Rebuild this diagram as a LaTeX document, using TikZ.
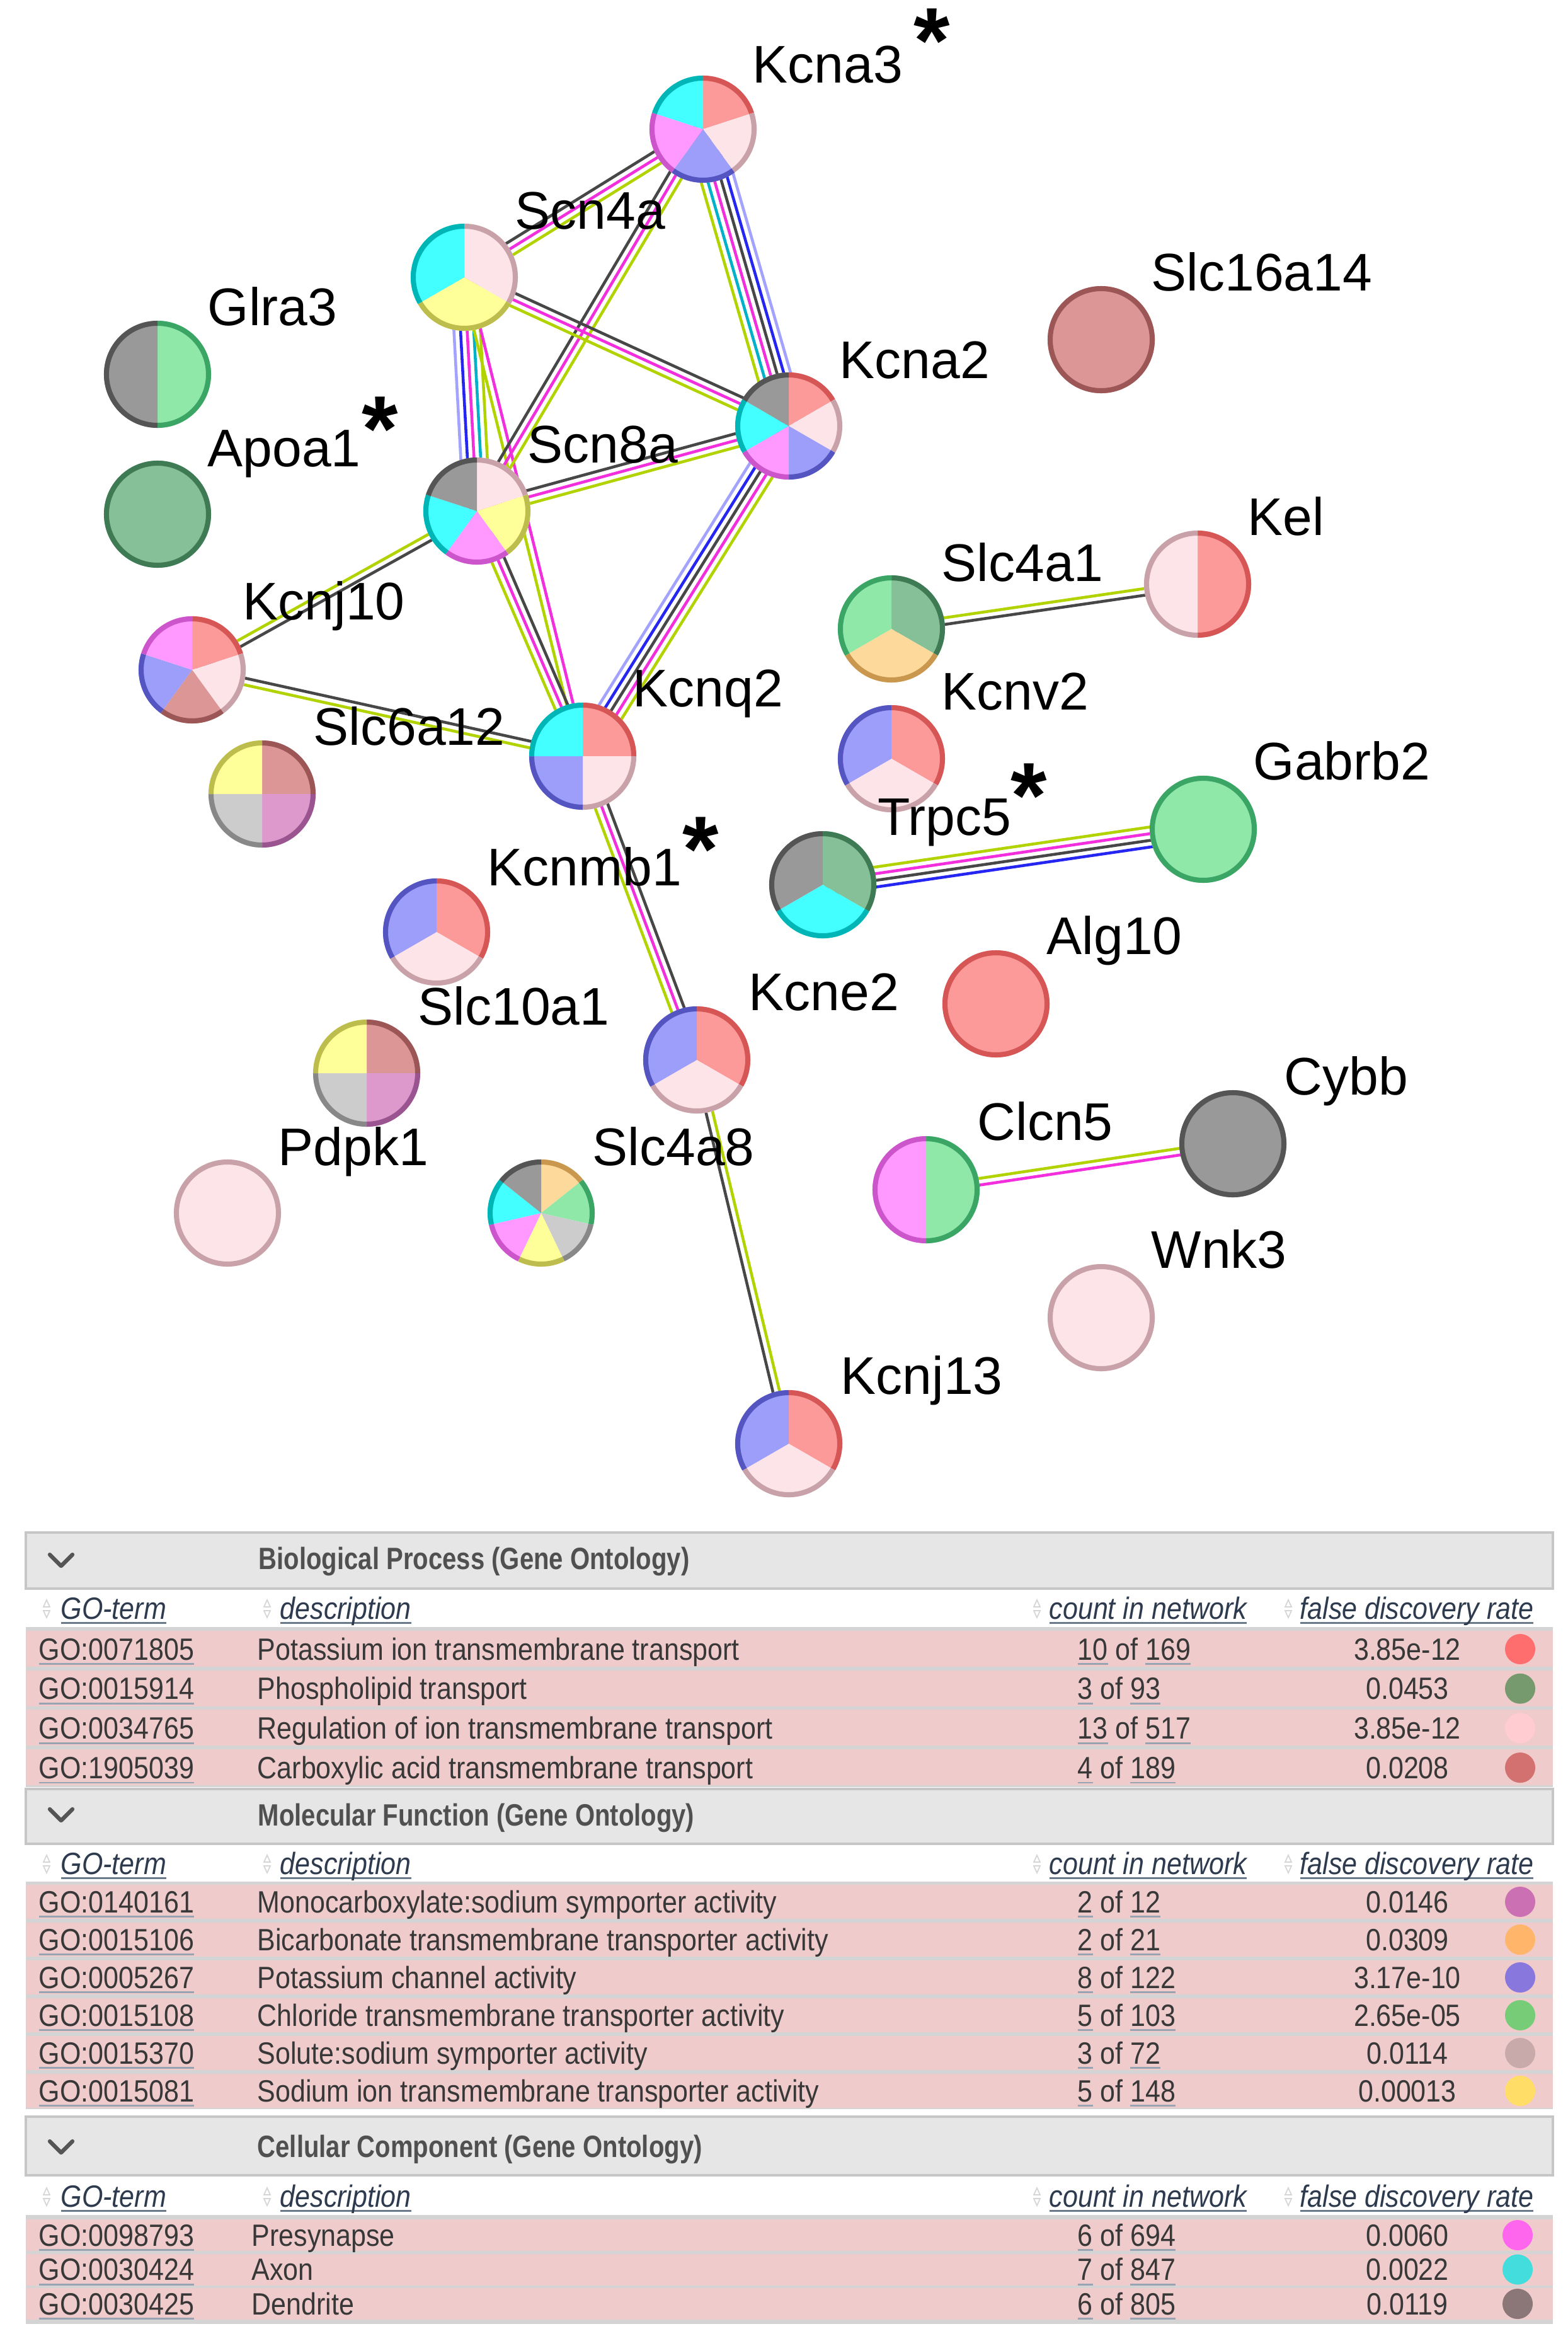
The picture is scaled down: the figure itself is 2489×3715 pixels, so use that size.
\documentclass[tikz,border=0pt]{standalone}
\usepackage{fontspec}
\setmainfont{Liberation Sans}
\newfontfamily\labfont{Liberation Sans}
\newfontfamily\tabreg[FakeStretch=0.88]{Liberation Sans}
\newfontfamily\tabhd[FakeStretch=0.82]{Liberation Sans}
\usetikzlibrary{calc}
\pgfdeclarelayer{bgl}
\pgfdeclarelayer{edges}
\pgfsetlayers{bgl,edges,main}
% node sector colours (fill / border)
\definecolor{cR}{HTML}{FC9A9A}\definecolor{cRB}{HTML}{D65555}
\definecolor{cP}{HTML}{FDE4E8}\definecolor{cPB}{HTML}{C8A2A8}
\definecolor{cDG}{HTML}{86C098}\definecolor{cDGB}{HTML}{3E7B55}
\definecolor{cDR}{HTML}{DC9696}\definecolor{cDRB}{HTML}{9C5656}
\definecolor{cMv}{HTML}{DD99CC}\definecolor{cMvB}{HTML}{9A5590}
\definecolor{cO}{HTML}{FDDA9B}\definecolor{cOB}{HTML}{C9974E}
\definecolor{cB}{HTML}{9D9DFA}\definecolor{cBB}{HTML}{5555C2}
\definecolor{cG}{HTML}{8FE8A8}\definecolor{cGB}{HTML}{3AA565}
\definecolor{cLG}{HTML}{CCCCCC}\definecolor{cLGB}{HTML}{888888}
\definecolor{cY}{HTML}{FFFF99}\definecolor{cYB}{HTML}{BDBD4D}
\definecolor{cM}{HTML}{FF99FF}\definecolor{cMB}{HTML}{CC55CC}
\definecolor{cC}{HTML}{44FFFF}\definecolor{cCB}{HTML}{00B5B5}
\definecolor{cK}{HTML}{999999}\definecolor{cKB}{HTML}{555555}
% edge colours
\definecolor{eL}{HTML}{A3A3FF}
\definecolor{eB}{HTML}{2626F2}
\definecolor{eK}{HTML}{474747}
\definecolor{eM}{HTML}{F22EDD}
\definecolor{eT}{HTML}{00B1C9}
\definecolor{eY}{HTML}{B3D300}
% table colours
\definecolor{rowpink}{HTML}{F0CBCB}
\definecolor{sepg}{HTML}{D4D4D4}
\definecolor{bandfill}{HTML}{E6E6E6}
\definecolor{bandline}{HTML}{C6C6C6}
\definecolor{bandtext}{HTML}{505050}
\definecolor{tabtext}{HTML}{383838}
\definecolor{colhead}{HTML}{2E3B4E}
\definecolor{colul}{HTML}{6A7A8A}
\definecolor{ulgray}{HTML}{98A4B2}
\definecolor{chevc}{HTML}{555555}
\definecolor{sortc}{HTML}{D6D6D6}
% legend dots
\definecolor{dR}{HTML}{FF6E6E}
\definecolor{dDG}{HTML}{77996E}
\definecolor{dP}{HTML}{FFCCD2}
\definecolor{dDR}{HTML}{D37070}
\definecolor{dMv}{HTML}{CC70B4}
\definecolor{dO}{HTML}{FFB56A}
\definecolor{dB}{HTML}{8877DD}
\definecolor{dG}{HTML}{77CC77}
\definecolor{dLG}{HTML}{C8AAAA}
\definecolor{dY}{HTML}{FFDD66}
\definecolor{dM}{HTML}{FF66EE}
\definecolor{dC}{HTML}{44DDDD}
\definecolor{dK}{HTML}{8B7777}

\newsavebox\ulbox
\newcommand\gul[2][ulgray]{\sbox\ulbox{#2}\rlap{\color{#1}\rule[-0.17em]{\wd\ulbox}{0.06em}}\usebox\ulbox}

\newcommand\genepie[2]{%
  \foreach \c [count=\n] in {#2} {\global\let\pieN\n}%
  \foreach \c [count=\i from 0] in {#2} {%
    \pgfmathsetmacro\sa{90-\i*360/\pieN}%
    \pgfmathsetmacro\ea{90-(\i+1)*360/\pieN}%
    \fill[fill=\c] (#1.center) -- ($(#1.center)+(\sa:85)$) arc[start angle=\sa, end angle=\ea, radius=85] -- cycle;%
    \draw[draw=\c B, line width=2.3pt] ($(#1.center)+(\sa:81)$) arc[start angle=\sa, end angle=\ea, radius=81];%
  }}

\newcommand\pedge[3]{%
  \foreach \c [count=\n] in {#3} {\global\let\edN\n}%
  \foreach \c [count=\i from 0] in {#3} {%
    \pgfmathsetmacro\off{((\edN-1)/2-\i)*2.99}%
    \draw[draw=\c, line width=1.3pt] ($(#1.center)!\off pt!90:(#2.center)$) -- ($(#2.center)!\off pt!-90:(#1.center)$);%
  }}

\newcommand\sorticon[2]{%
  \draw[sorti] (#1-5,{-(#2-19)}) -- (#1+5,{-(#2-19)}) -- (#1,{-(#2-30)}) -- cycle;
  \draw[sorti] (#1-5,{-(#2-13)}) -- (#1+5,{-(#2-13)}) -- (#1,{-(#2-2)}) -- cycle;
}
\newcommand\colhead[2]{%
  \sorticon{74}{#2}\sorticon{424}{#2}\sorticon{1646}{#2}\sorticon{2045}{#2}%
  \node[th] (#1go) at (96,-#2) {\gul[colul]{GO-term}};
  \node[th] (#1de) at (444,-#2) {\gul[colul]{description}};
  \node[th] (#1co) at (1665,-#2) {\gul[colul]{count in network}};
  \node[th] (#1fd) at (2063,-#2) {\gul[colul]{false discovery rate}};
}

\tikzset{
  gene/.style={circle, minimum size=1.7cm, inner sep=0pt},
  lab/.style={anchor=base west, inner sep=0pt, font=\labfont\fontsize{23.9}{28}\selectfont, text=black},
  ast/.style={anchor=base, inner sep=0pt, font=\labfont\bfseries\fontsize{42}{46}\selectfont, text=black},
  tt/.style={anchor=base west, inner sep=0pt, font=\tabreg\fontsize{13.9}{16}\selectfont, text=tabtext},
  ttc/.style={tt, anchor=base},
  th/.style={anchor=base west, inner sep=0pt, font=\tabreg\itshape\fontsize{13.9}{16}\selectfont, text=colhead},
  tb/.style={anchor=base west, inner sep=0pt, font=\tabhd\bfseries\fontsize{13.9}{16}\selectfont, text=bandtext},
  dot/.style={circle, minimum size=0.48cm, inner sep=0pt},
  band/.style={fill=bandfill, draw=bandline, line width=1pt},
  chev/.style={draw=chevc, line width=1.8pt, line cap=round, line join=round},
  sorti/.style={draw=sortc, line width=0.5pt, fill=white}
}

\begin{document}
\begin{tikzpicture}[x=0.01cm, y=0.01cm]
\useasboundingbox (0,0) rectangle (2489,-3715);
\begin{pgfonlayer}{bgl}
\fill[white] (0,0) rectangle (2489,-3715);
\end{pgfonlayer}

% ---------- gene nodes ----------
\node[gene] (kcna3)    at (1116,-205)  {};
\node[gene] (scn4a)    at (737,-440)   {};
\node[gene] (glra3)    at (250,-594)   {};
\node[gene] (apoa1)    at (250,-816)   {};
\node[gene] (scn8a)    at (757,-811)   {};
\node[gene] (kcnj10)   at (305,-1063)  {};
\node[gene] (kcna2)    at (1252,-676)  {};
\node[gene] (slc16a14) at (1748,-539)  {};
\node[gene] (slc4a1)   at (1415,-998)  {};
\node[gene] (kel)      at (1901,-927)  {};
\node[gene] (kcnq2)    at (925,-1200)  {};
\node[gene] (slc6a12)  at (416,-1260)  {};
\node[gene] (kcnmb1)   at (693,-1479)  {};
\node[gene] (kcnv2)    at (1415,-1204) {};
\node[gene] (trpc5)    at (1306,-1404) {};
\node[gene] (gabrb2)   at (1910,-1316) {};
\node[gene] (slc10a1)  at (582,-1703)  {};
\node[gene] (kcne2)    at (1106,-1682) {};
\node[gene] (alg10)    at (1581,-1593) {};
\node[gene] (pdpk1)    at (361,-1925)  {};
\node[gene] (slc4a8)   at (859,-1925)  {};
\node[gene] (clcn5)    at (1470,-1888) {};
\node[gene] (cybb)     at (1957,-1815) {};
\node[gene] (wnk3)     at (1748,-2091) {};
\node[gene] (kcnj13)   at (1252,-2291) {};

% ---------- edges ----------
\begin{pgfonlayer}{edges}
\pedge{kcna3}{kcna2}{eL,eB,eK,eM,eT,eY}
\pedge{kcnq2}{kcna2}{eL,eB,eK,eM,eY}
\pedge{scn8a}{scn4a}{eL,eB,eM,eT,eY}
\pedge{scn4a}{kcnq2}{eM,eY}
\pedge{scn8a}{kcnq2}{eK,eM,eY}
\pedge{scn4a}{kcna3}{eK,eM,eY}
\pedge{scn8a}{kcna3}{eK,eM,eY}
\pedge{scn4a}{kcna2}{eK,eM,eY}
\pedge{scn8a}{kcna2}{eK,eM,eY}
\pedge{scn8a}{kcnj10}{eK,eY}
\pedge{kcnj10}{kcnq2}{eK,eY}
\pedge{kcnq2}{kcne2}{eK,eM,eY}
\pedge{kcnj13}{kcne2}{eK,eY}
\pedge{kel}{slc4a1}{eK,eY}
\pedge{gabrb2}{trpc5}{eB,eK,eM,eY}
\pedge{cybb}{clcn5}{eM,eY}
\end{pgfonlayer}

% ---------- pies ----------
\genepie{kcna3}{cR,cP,cB,cM,cC}
\genepie{scn4a}{cP,cY,cC}
\genepie{glra3}{cG,cK}
\genepie{apoa1}{cDG}
\genepie{slc16a14}{cDR}
\genepie{scn8a}{cP,cY,cM,cC,cK}
\genepie{kcna2}{cR,cP,cB,cM,cC,cK}
\genepie{kcnj10}{cR,cP,cDR,cB,cM}
\genepie{slc6a12}{cDR,cMv,cLG,cY}
\genepie{kcnq2}{cR,cP,cB,cC}
\genepie{slc4a1}{cDG,cO,cG}
\genepie{kel}{cR,cP}
\genepie{kcnv2}{cR,cP,cB}
\genepie{trpc5}{cDG,cC,cK}
\genepie{gabrb2}{cG}
\genepie{kcnmb1}{cR,cP,cB}
\genepie{slc10a1}{cDR,cMv,cLG,cY}
\genepie{kcne2}{cR,cP,cB}
\genepie{alg10}{cR}
\genepie{pdpk1}{cP}
\genepie{slc4a8}{cO,cG,cLG,cY,cM,cC,cK}
\genepie{clcn5}{cG,cM}
\genepie{cybb}{cK}
\genepie{wnk3}{cP}
\genepie{kcnj13}{cR,cP,cB}

% ---------- labels ----------
\node[lab] (lkcna3)    at (1194,-132)  {Kcna3};
\node[lab] (lscn4a)    at (817,-363)   {Scn4a};
\node[lab] (lglra3)    at (329,-516)   {Glra3};
\node[lab] (lslc16a14) at (1827,-461)  {Slc16a14};
\node[lab] (lapoa1)    at (329,-740)   {Apoa1};
\node[lab] (lkcna2)    at (1332,-600)  {Kcna2};
\node[lab] (lscn8a)    at (837,-734)   {Scn8a};
\node[lab] (lkel)      at (1980,-849)  {Kel};
\node[lab] (lkcnj10)   at (385,-983)   {Kcnj10};
\node[lab] (lslc4a1)   at (1494,-922)  {Slc4a1};
\node[lab] (lkcnq2)    at (1004,-1121) {Kcnq2};
\node[lab] (lkcnv2)    at (1494,-1126) {Kcnv2};
\node[lab] (lslc6a12)  at (497,-1182)  {Slc6a12};
\node[lab] (lgabrb2)   at (1989,-1237) {Gabrb2};
\node[lab] (ltrpc5)    at (1393,-1325) {Trpc5};
\node[lab] (lkcnmb1)   at (773,-1405)  {Kcnmb1};
\node[lab] (lalg10)    at (1661,-1514) {Alg10};
\node[lab] (lkcne2)    at (1188,-1603) {Kcne2};
\node[lab] (lslc10a1)  at (663,-1626)  {Slc10a1};
\node[lab] (lcybb)     at (2038,-1737) {Cybb};
\node[lab] (lclcn5)    at (1551,-1809) {Clcn5};
\node[lab] (lpdpk1)    at (441,-1849)  {Pdpk1};
\node[lab] (lslc4a8)   at (940,-1849)  {Slc4a8};
\node[lab] (lwnk3)     at (1827,-2012) {Wnk3};
\node[lab] (lkcnj13)   at (1334,-2212) {Kcnj13};
% asterisks
\node[ast] (akcna3)  at (1479,-116) {*};
\node[ast] (aapoa1)  at (603,-731)  {*};
\node[ast] (akcnmb1) at (1112,-1398) {*};
\node[ast] (atrpc5)  at (1633,-1313) {*};

% ---------- table: Biological Process ----------
\draw[band] (41,-2432) rectangle (2465,-2521);
\draw[chev] (79,-2467) -- (97,-2485) -- (115,-2467);
\node[tb] (bphead) at (410,-2490) {Biological Process (Gene Ontology)};
\colhead{bp}{2569}
\fill[sepg] (41,-2582) rectangle (2465,-2836);
\foreach \id/\de/\ca/\cb/\fd/\dc [count=\k from 0] in {
  0071805/Potassium ion transmembrane transport/10/169/3.85e-12/dR,
  0015914/Phospholipid transport/3/93/0.0453/dDG,
  0034765/Regulation of ion transmembrane transport/13/517/3.85e-12/dP,
  1905039/Carboxylic acid transmembrane transport/4/189/0.0208/dDR}{
  \pgfmathsetmacro\yb{2634+62.7*\k}
  \fill[rowpink] (41,{-(\yb-46)}) rectangle (2465,{-(\yb+11)});
  \node[tt] (bpid\k) at (61,-\yb) {\gul{GO:\id}};
  \node[tt] (bpde\k) at (408,-\yb) {\de};
  \node[tt] (bpco\k) at (1710,-\yb) {\gul{\ca} of \gul{\cb}};
  \node[ttc] (bpfd\k) at (2234,-\yb) {\fd};
  \node[dot, fill=\dc] (bpdot\k) at (2413,{-(\yb-17)}) {};
}

% ---------- table: Molecular Function ----------
\draw[band] (41,-2839) rectangle (2465,-2926);
\draw[chev] (79,-2871) -- (97,-2889) -- (115,-2871);
\node[tb] (mfhead) at (409,-2897) {Molecular Function (Gene Ontology)};
\colhead{mf}{2974}
\fill[sepg] (41,-2986) rectangle (2465,-3347);
\foreach \id/\de/\ca/\cb/\fd/\dc [count=\k from 0] in {
  0140161/Monocarboxylate:sodium symporter activity/2/12/0.0146/dMv,
  0015106/Bicarbonate transmembrane transporter activity/2/21/0.0309/dO,
  0005267/Potassium channel activity/8/122/3.17e-10/dB,
  0015108/Chloride transmembrane transporter activity/5/103/2.65e-05/dG,
  0015370/Solute:sodium symporter activity/3/72/0.0114/dLG,
  0015081/Sodium ion transmembrane transporter activity/5/148/0.00013/dY}{
  \pgfmathsetmacro\yb{3035+60*\k}
  \fill[rowpink] (41,{-(\yb-44.5)}) rectangle (2465,{-(\yb+9.5)});
  \node[tt] (mfid\k) at (61,-\yb) {\gul{GO:\id}};
  \node[tt] (mfde\k) at (408,-\yb) {\de};
  \node[tt] (mfco\k) at (1710,-\yb) {\gul{\ca} of \gul{\cb}};
  \node[ttc] (mffd\k) at (2234,-\yb) {\fd};
  \node[dot, fill=\dc] (mfdot\k) at (2413,{-(\yb-17)}) {};
}

% ---------- table: Cellular Component ----------
\draw[band] (41,-3359) rectangle (2465,-3452);
\draw[chev] (79,-3398) -- (97,-3416) -- (115,-3398);
\node[tb] (cchead) at (408,-3423) {Cellular Component (Gene Ontology)};
\colhead{cc}{3502}
\fill[sepg] (41,-3515) rectangle (2465,-3688);
\foreach \id/\de/\ca/\cb/\fd/\dc [count=\k from 0] in {
  0098793/Presynapse/6/694/0.0060/dM,
  0030424/Axon/7/847/0.0022/dC,
  0030425/Dendrite/6/805/0.0119/dK}{
  \pgfmathsetmacro\yb{3564+54.5*\k}
  \fill[rowpink] (41,{-(\yb-41.75)}) rectangle (2465,{-(\yb+8)});
  \node[tt] (ccid\k) at (61,-\yb) {\gul{GO:\id}};
  \node[tt] (ccde\k) at (399,-\yb) {\de};
  \node[tt] (ccco\k) at (1710,-\yb) {\gul{\ca} of \gul{\cb}};
  \node[ttc] (ccfd\k) at (2234,-\yb) {\fd};
  \node[dot, fill=\dc] (ccdot\k) at (2409,{-(\yb-17)}) {};
}
\end{tikzpicture}
\end{document}
